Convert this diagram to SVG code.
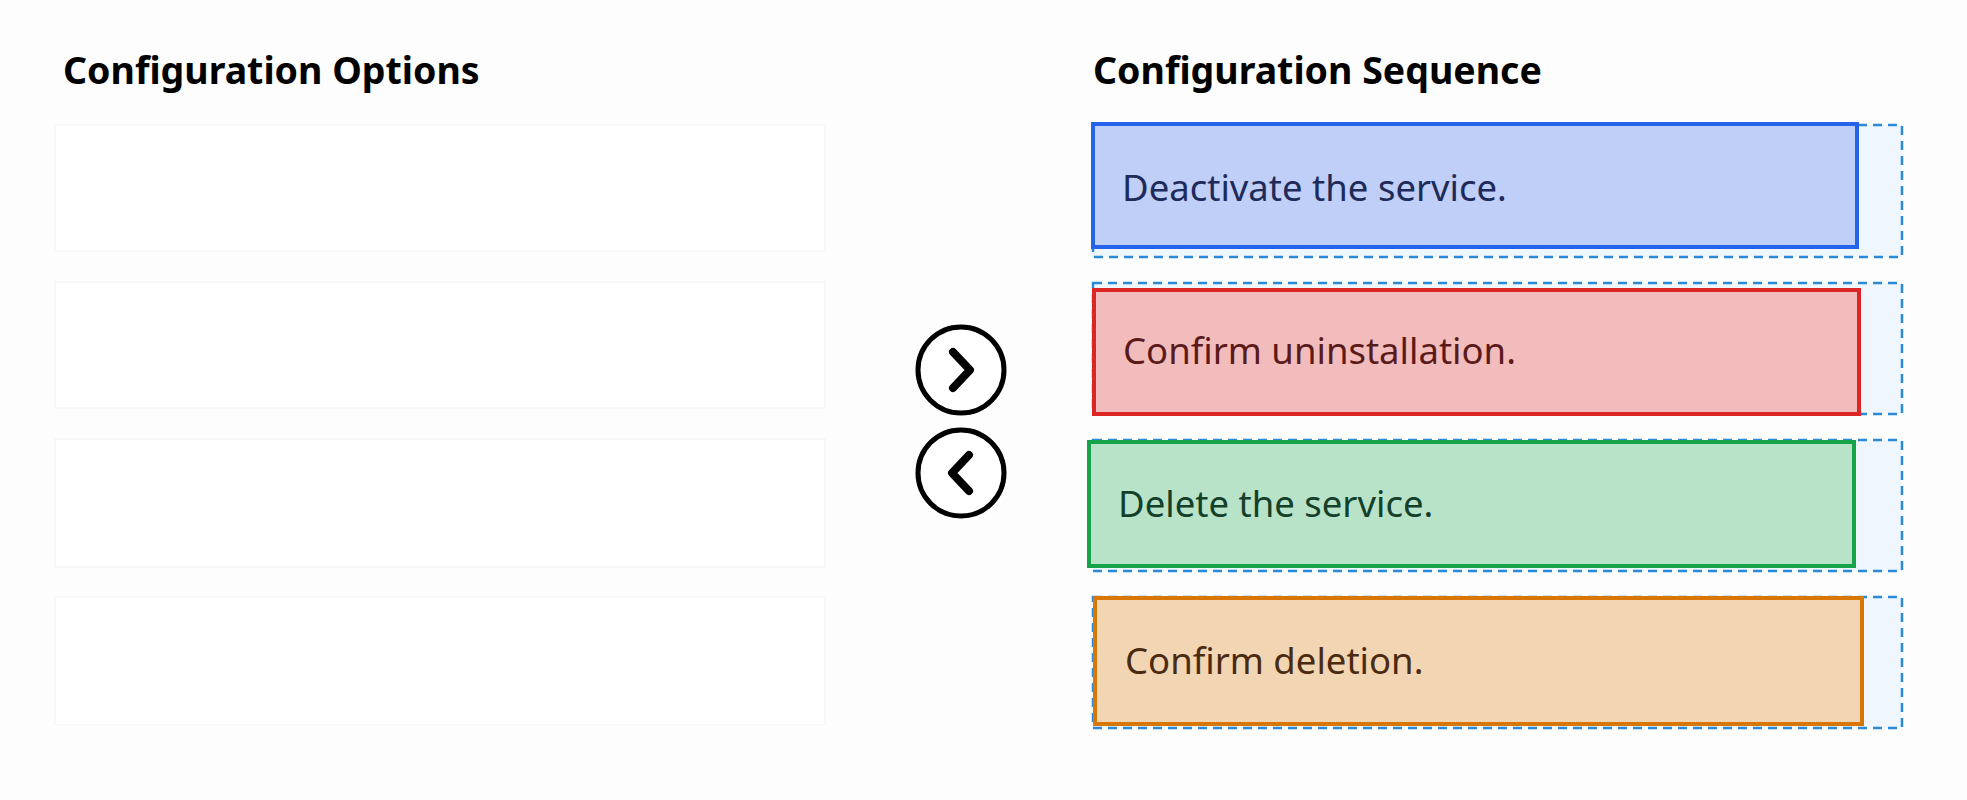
<svg xmlns="http://www.w3.org/2000/svg" width="1967" height="800" viewBox="0 0 1967 800">
<style>
.t{font-family:"Noto Sans","Open Sans",sans-serif;font-weight:bold;font-size:37.5px;fill:#000}
.l{font-family:"Noto Sans","Open Sans",sans-serif;font-size:36.5px}
.opt{fill:#fff;stroke:#f8f8f8;stroke-width:2}
.slot{fill:#f0f6fd;stroke:#2a8ad8;stroke-width:2.5;stroke-dasharray:9 6}
.btn{fill:#fff;stroke:#000;stroke-width:5}
.chev{fill:none;stroke:#000;stroke-width:8;stroke-linecap:round;stroke-linejoin:round}
</style>
<rect width="1967" height="800" fill="#fdfdfd"/>
<text class="t" x="63" y="84">Configuration Options</text>
<text class="t" x="1093" y="84">Configuration Sequence</text>
<g id="options">
<rect class="opt" x="55" y="125" width="770" height="126"/>
<rect class="opt" x="55" y="282" width="770" height="126"/>
<rect class="opt" x="55" y="439" width="770" height="128"/>
<rect class="opt" x="55" y="597" width="770" height="128"/>
</g>
<g id="slots">
<rect class="slot" x="1093" y="125" width="809" height="132"/>
<rect class="slot" x="1093" y="283" width="809" height="131"/>
<rect class="slot" x="1093" y="440" width="809" height="131"/>
<rect class="slot" x="1093" y="597" width="809" height="131"/>
</g>
<g id="btn-right"><circle class="btn" cx="961" cy="370" r="43"/><path class="chev" d="M953 352 L970 370 L953 388"/></g>
<g id="btn-left"><circle class="btn" cx="961" cy="473" r="43"/><path class="chev" d="M969 455 L952 473 L969 491"/></g>
<g id="connectors"></g>
<g id="step1"><rect x="1093" y="124" width="764" height="123" fill="#bfcff7" stroke="#2563eb" stroke-width="4"/><text class="l" x="1122" y="201" fill="#1e2a5a">Deactivate the service.</text></g>
<g id="step2"><rect x="1094" y="290" width="765" height="124" fill="#f2bcbc" stroke="#dc2626" stroke-width="4"/><text class="l" x="1123" y="364" fill="#5a1a1a">Confirm uninstallation.</text></g>
<g id="step3"><rect x="1089" y="442" width="765" height="124" fill="#b8e3c9" stroke="#16a34a" stroke-width="4"/><text class="l" x="1118" y="517" fill="#14402a">Delete the service.</text></g>
<g id="step4"><rect x="1095" y="598" width="767" height="126" fill="#f2d5b2" stroke="#d97706" stroke-width="4"/><text class="l" x="1125" y="674" fill="#4a2a10">Confirm deletion.</text></g>
</svg>
